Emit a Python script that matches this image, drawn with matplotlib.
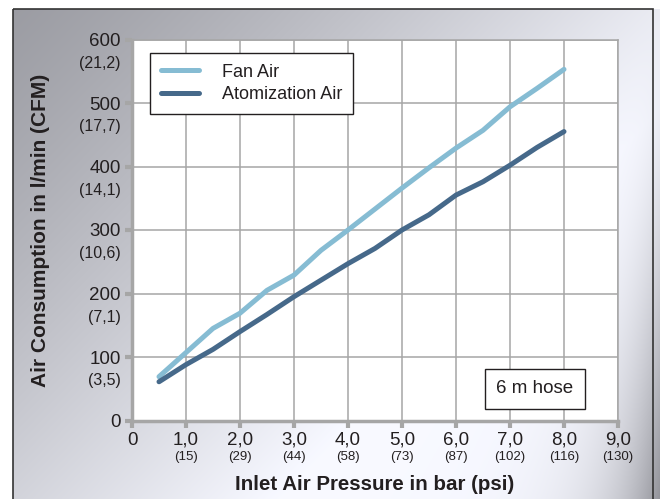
import numpy as np
import matplotlib
matplotlib.use("Agg")
import matplotlib.pyplot as plt
from matplotlib.patches import Rectangle
import matplotlib.transforms as mtransforms

plt.rcParams['font.family'] = ['Liberation Sans', 'DejaVu Sans']

# data
pressure = [0.5, 1.0, 1.5, 2.0, 2.5, 3.0, 3.5, 4.0, 4.5, 5.0, 5.5, 6.0, 6.5, 7.0, 7.5, 8.0]
fan_air = [69, 107, 145, 169, 205, 229, 268, 300, 333, 366, 398, 429, 457, 494, 523, 553]
atomization_air = [61, 88, 112, 140, 167, 195, 221, 247, 271, 300, 324, 355, 376, 402, 430, 455]

x_ticks = [0, 1, 2, 3, 4, 5, 6, 7, 8, 9]
x_labels = ["0", "1,0", "2,0", "3,0", "4,0", "5,0", "6,0", "7,0", "8,0", "9,0"]
x_psi = ["", "(15)", "(29)", "(44)", "(58)", "(73)", "(87)", "(102)", "(116)", "(130)"]
y_ticks = [0, 100, 200, 300, 400, 500, 600]
y_labels = ["0", "100", "200", "300", "400", "500", "600"]
y_cfm = ["", "(3,5)", "(7,1)", "(10,6)", "(14,1)", "(17,7)", "(21,2)"]

W, H = 660, 499
fig = plt.figure(figsize=(W / 100, H / 100), dpi=100)

# gradient background
px, py = np.meshgrid(np.arange(W), np.arange(H))
t = np.clip((px / W) * 0.75 + (py / H) * 0.55, 0, 1)
L = 0.62 + 0.38 * np.clip(t * 1.15, 0, 1) ** 1.2
dark = 0.38 * np.exp(-(655 - px) / (8 + 45 * py / H)) * (py / H) ** 1.5
L = np.clip(L - dark, 0, 1)
img = np.dstack([L * 0.975, L * 0.98, np.clip(L * 0.99 + 0.02, 0, 1)])
img = np.clip(img, 0, 1)
mask = (px < 13) | (py < 9)
img[mask] = 1.0
bg = fig.add_axes([0, 0, 1, 1])
bg.imshow(img, extent=[0, W, H, 0], aspect='auto', interpolation='bilinear')
bg.add_patch(Rectangle((13, 9), 640, 495, fill=False, edgecolor='#333333', lw=1.2))
bg.set_xlim(0, W)
bg.set_ylim(H, 0)
bg.axis('off')

left, right, top, bottom = 132, 618, 39.5, 420.5
ax = fig.add_axes([left / W, 1 - bottom / H, (right - left) / W, (bottom - top) / H])
ax.set_facecolor('white')

ax.plot(pressure, fan_air, color='#86bcd3', lw=3.6, solid_capstyle='round',
        solid_joinstyle='round', label='Fan Air', zorder=3)
ax.plot(pressure, atomization_air, color='#46698a', lw=3.6, solid_capstyle='round',
        solid_joinstyle='round', label='Atomization Air', zorder=3)

ax.set_xlim(0, 9)
ax.set_ylim(0, 600)
ax.set_xticks(x_ticks)
ax.set_yticks(y_ticks)
ax.set_xticklabels(x_labels, fontsize=13.5, color='#231f20')
ax.set_yticklabels(y_labels, fontsize=13.5, color='#231f20')
ax.grid(True, color='#a6a6a6', lw=1.1, zorder=0)
ax.tick_params(axis='both', length=5, width=3, color='#a6a6a6', pad=3)
for s in ['left', 'bottom']:
    ax.spines[s].set_color('#a6a6a6')
    ax.spines[s].set_linewidth(2.5)
for s in ['top', 'right']:
    ax.spines[s].set_color('#a6a6a6')
    ax.spines[s].set_linewidth(1.1)

# secondary unit labels
ty = mtransforms.blended_transform_factory(ax.transAxes, ax.transData)
for v, lab in zip(y_ticks, y_cfm):
    if lab:
        ax.annotate(lab, xy=(0, v), xycoords=ty, xytext=(-8, -17), textcoords='offset points',
                    ha='right', va='center', fontsize=11.5, color='#231f20')
tx = mtransforms.blended_transform_factory(ax.transData, ax.transAxes)
for v, lab in zip(x_ticks, x_psi):
    if lab:
        ax.annotate(lab, xy=(v, 0), xycoords=tx, xytext=(0, -26), textcoords='offset points',
                    ha='center', va='center', fontsize=9.5, color='#231f20')

ax.set_xlabel('Inlet Air Pressure in bar (psi)', fontsize=14.8, fontweight='bold',
              color='#231f20', labelpad=19)
ax.set_ylabel('Air Consumption in l/min (CFM)', fontsize=15, fontweight='bold',
              color='#231f20', labelpad=28)

leg = ax.legend(loc='upper left', bbox_to_anchor=(0.037, 0.965), borderaxespad=0,
                fontsize=13, fancybox=False, framealpha=1, edgecolor='#231f20',
                handlelength=2.1, borderpad=0.6, labelspacing=0.3, handletextpad=1.3)
leg.get_frame().set_linewidth(1.0)
for t_ in leg.get_texts():
    t_.set_color('#231f20')

ax.text(0.829, 0.083, '6 m hose', transform=ax.transAxes, ha='center', va='center',
        fontsize=13.5, color='#231f20',
        bbox=dict(boxstyle='square,pad=0.6', fc='white', ec='#231f20', lw=1.0))

fig.savefig('out.png', dpi=100)
